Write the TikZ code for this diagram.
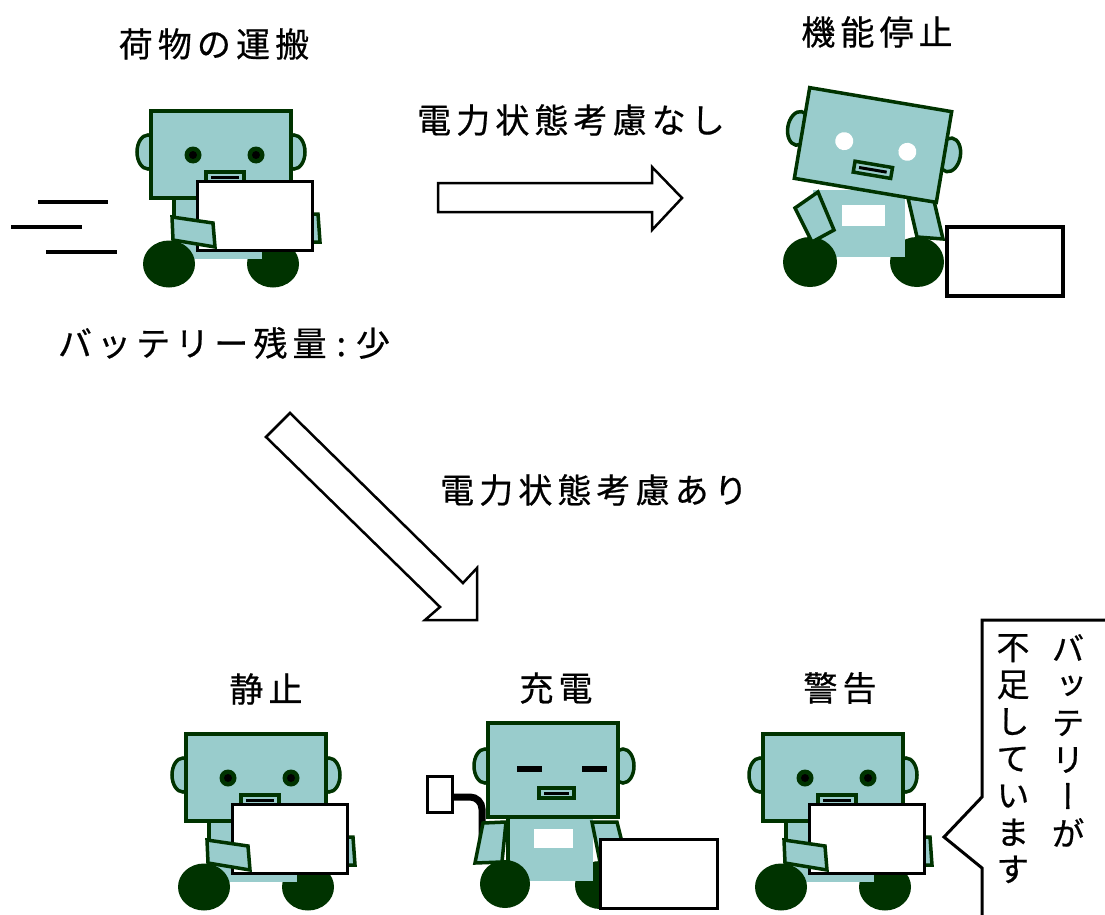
\documentclass[tikz,border=0pt]{standalone}
\usepackage{fontspec}
\newfontfamily\jpfont[LetterSpace=15, FakeBold=0.6]{Noto Sans CJK JP}
\newfontfamily\jpvert[RawFeature=+vert, FakeBold=0.6]{Noto Sans CJK JP}
\definecolor{RobotTeal}{RGB}{153,204,204}
\definecolor{RobotGreen}{RGB}{0,51,0}

\tikzset{
  part/.style={fill=RobotTeal, draw=RobotGreen, line width=3.5pt},
  wheel/.style={fill=RobotGreen},
  parcel/.style={fill=white, draw=black, line width=3pt},
  bigarrow/.style={fill=white, draw=black, line width=2.5pt},
  caption/.style={font=\jpfont\fontsize{34}{38}\selectfont, inner sep=0pt},
  bubbletext/.style={font=\jpvert\fontsize{33}{37}\selectfont, align=center, inner sep=0pt},
  % robot holding a parcel, origin at the top left of its head
  carrier/.pic={
    % ears
    \draw[part] (-3,41) ellipse [x radius=11, y radius=17];
    \draw[part] (143,41) ellipse [x radius=11, y radius=17];
    % wheels and body
    \fill[wheel] (122,153) ellipse [x radius=26, y radius=23.5];
    \fill[RobotTeal] (23,87) rectangle (111,148);
    \draw[RobotGreen, line width=3.5pt] (23,87) -- (23,140);
    \fill[wheel] (18,153) ellipse [x radius=26, y radius=23.5];
    % head
    \draw[part] (0,0) rectangle (140,87);
    \foreach \ex in {42,105} {
      \fill[RobotGreen] (\ex,44) circle (8.5);
      \fill[black] (\ex,44) circle (4);
    }
    \draw[part] (55,61) rectangle (93,75);
    \draw[black, line width=3pt] (60,66) -- (88,66);
    % arms and parcel
    \draw[part] (140,103) -- (167,103) -- (169,131) -- (140,131) -- cycle;
    \draw[parcel] (46,70) rectangle (161,139);
    \draw[part] (21,106) -- (62,112) -- (64,136) -- (22,129) -- cycle;
  }
}

\begin{document}
\begin{tikzpicture}[x=1pt, y=-1pt]
\useasboundingbox (0,0) rectangle (1105,915);

% Robot at work
\foreach \xa/\xb/\yy in {38/108/202, 11/82/227, 46/117/252}
  \draw[line width=4.5pt] (\xa,\yy) -- (\xb,\yy);
\pic at (151,111) {carrier};
\node[caption] (task) at (214,44) {荷物の運搬};
\node[caption] (battery) at (224,343) {バッテリー残量\kern10pt{:}\kern10pt 少};

% Without power awareness
\draw[bigarrow] (438,183) -- (652,183) -- (652,167) -- (682,198) -- (652,230)
  -- (652,212) -- (438,212) -- cycle;
\node[caption] (without) at (571,120) {電力状態考慮なし};

% Stopped robot
\node[caption] (halt) at (877,32) {機能停止};
\fill[wheel] (917,262) ellipse [x radius=27, y radius=25];
\fill[RobotTeal] (813,190) rectangle (905,257);
\fill[white] (842,205) rectangle (885,226);
\fill[wheel] (810,262) ellipse [x radius=27, y radius=25];
\draw[part] (908,198) -- (934,201) -- (943,239) -- (917,237) -- cycle;
\begin{scope}[shift={(873,145)}, rotate=-9.6]
  \draw[part] (-76,-4) ellipse [x radius=11, y radius=17];
  \draw[part] (77,-3) ellipse [x radius=11, y radius=17];
  \draw[part] (-72,-46) rectangle (72,46);
  \fill[white] (-29,1) circle (9);
  \fill[white] (35,1) circle (9);
  \draw[part] (-15,19) rectangle (23,30);
  \draw[black, line width=3pt] (-10,24.5) -- (18,24.5);
\end{scope}
\draw[part] (795,208) -- (818,192) -- (834,230) -- (812,242) -- cycle;
\draw[parcel, line width=4pt] (947,227) rectangle (1063,296);

% With power awareness
\draw[bigarrow] (290,413) -- (463,583) -- (477,568) -- (477,620) -- (425,620)
  -- (440,607) -- (266,437) -- cycle;
\node[caption] (with) at (594,490) {電力状態考慮あり};

% Resting robot
\pic at (186,734) {carrier};
\node[caption] (rest) at (266,689) {静止};

% Charging robot
\node[caption] (charge) at (556,688) {充電};
\fill[wheel] (600,885) ellipse [x radius=25, y radius=24];
\fill[RobotTeal] (508,815) rectangle (593,881);
\draw[RobotGreen, line width=3.5pt] (508,815) -- (508,870);
\fill[white] (534,829) rectangle (573,848);
\fill[wheel] (505,884) ellipse [x radius=25, y radius=24];
\draw[line width=7pt, rounded corners=12pt] (450,797) -- (482,797) -- (482,840);
\draw[fill=white, line width=3pt] (427,776) rectangle (452,812);
\draw[part] (483,823) -- (506,822) -- (502,862) -- (475,863) -- cycle;
\draw[part] (592,822) -- (617,822) -- (627,862) -- (600,862) -- cycle;
\draw[part] (485,766) ellipse [x radius=11, y radius=17];
\draw[part] (623,766) ellipse [x radius=11, y radius=17];
\draw[part] (488,723) rectangle (618,817);
\fill[black] (517,766) rectangle (542,772);
\fill[black] (582,766) rectangle (607,772);
\draw[part] (539,788) rectangle (574,798);
\draw[black, line width=3pt] (544,793) -- (569,793);
\draw[parcel] (600,839) rectangle (717,908);

% Warning robot and speech bubble
\pic at (763,734) {carrier};
\node[caption] (warn) at (840,688) {警告};
\draw[line width=3pt] (1115,620) -- (982,620) -- (982,797) -- (944,837)
  -- (982,868) -- (982,925);
\node[bubbletext, anchor=north] (msgA) at (1068,634) {バ\\ッ\\テ\\リ\\ー\\が};
\node[bubbletext, anchor=north] (msgB) at (1013,634) {不\\足\\し\\て\\い\\ま\\す};

\end{tikzpicture}
\end{document}
